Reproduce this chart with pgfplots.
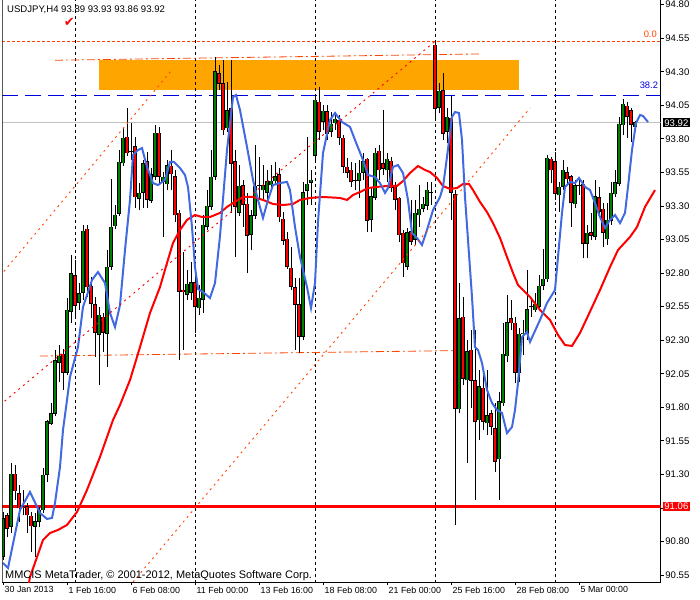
\documentclass[border=0pt]{standalone}
\usepackage{pgfplots}
\pgfplotsset{compat=1.18}
\usepackage{pgfplotstable}
\usepackage{fontspec}
\setmainfont{Liberation Sans}
\newfontfamily\djv{DejaVu Sans}
\definecolor{orangered}{RGB}{255,69,0}
\definecolor{mablue}{RGB}{65,105,225}
\definecolor{bull}{RGB}{0,128,0}
\definecolor{bear}{RGB}{255,0,0}
\definecolor{rectorange}{RGB}{255,165,0}
\definecolor{fibblue}{RGB}{0,0,220}
\definecolor{bidgray}{RGB}{192,192,192}

% USDJPY H4 candles, bar index i (30 Jan 2013 00:00 = 0)
\pgfplotstableread{
i o h l c
0 90.686 91.020 90.662 90.973
1 90.997 91.012 90.833 90.898
2 90.909 91.385 90.863 91.303
3 91.303 91.370 91.109 91.176
4 91.159 91.221 90.947 91.049
5 91.057 91.184 90.997 91.049
6 91.059 91.087 90.863 90.997
7 90.990 91.022 90.724 90.915
8 90.909 91.012 90.686 90.947
9 90.947 91.059 90.909 91.034
10 91.034 91.347 91.012 91.296
11 91.296 91.705 91.245 91.693
12 91.680 91.832 91.668 91.755
13 91.755 92.227 91.735 92.148
14 92.133 92.265 91.991 92.182
15 92.197 92.235 91.928 92.056
16 92.058 92.615 92.041 92.525
17 92.513 92.935 92.431 92.794
18 92.779 92.898 92.475 92.558
19 92.578 92.727 92.525 92.645
20 92.654 93.159 92.600 93.114
21 93.129 93.159 92.624 92.696
22 92.704 92.773 92.466 92.570
23 92.563 92.624 92.175 92.354
24 92.339 92.550 91.965 92.488
25 92.473 92.503 92.212 92.354
26 92.347 92.972 92.102 92.846
27 92.846 93.501 92.823 93.144
28 93.151 93.308 93.129 93.233
29 93.241 93.717 93.226 93.628
30 93.620 93.881 93.598 93.807
31 93.814 94.030 93.673 93.695
32 93.702 93.918 93.643 93.705
33 93.742 93.816 93.285 93.367
34 93.354 93.471 93.270 93.397
35 93.399 93.643 93.285 93.620
36 93.630 93.705 93.285 93.345
37 93.340 93.583 93.323 93.538
38 93.518 93.903 93.494 93.844
39 93.844 93.888 93.456 93.518
40 93.481 93.556 93.069 93.516
41 93.464 93.643 93.419 93.605
42 93.598 93.717 93.419 93.538
43 93.523 93.568 93.180 93.233
44 93.248 93.270 92.152 92.661
45 92.674 92.960 92.227 92.659
46 92.637 92.823 92.600 92.719
47 92.652 92.885 92.600 92.727
48 92.727 92.773 92.354 92.550
49 92.540 92.712 92.488 92.615
50 92.600 93.233 92.503 93.159
51 93.144 93.419 93.121 93.300
52 93.293 93.717 93.270 93.516
53 93.518 94.412 93.494 94.301
54 94.289 94.351 94.164 94.214
55 94.214 94.388 93.829 93.866
56 93.881 94.226 93.851 94.015
57 94.028 94.388 93.248 93.618
58 93.630 93.717 92.920 93.295
59 93.248 93.605 93.226 93.449
60 93.456 93.494 93.146 93.308
61 93.315 93.397 92.801 93.081
62 93.088 93.270 92.972 93.230
63 93.230 93.754 93.206 93.449
64 93.456 93.667 93.345 93.453
65 93.419 93.605 93.345 93.456
66 93.399 93.568 93.345 93.481
67 93.456 93.605 93.419 93.486
68 93.486 93.630 93.456 93.523
69 93.538 93.583 93.181 93.218
70 93.203 93.258 93.010 93.042
71 93.054 93.108 92.830 92.846
72 92.838 92.997 92.674 92.697
73 92.696 92.763 92.227 92.563
74 92.563 92.763 92.205 92.327
75 92.324 93.479 92.302 93.399
76 93.414 93.814 93.307 93.464
77 93.474 93.568 93.307 93.494
78 93.673 94.127 93.643 94.090
79 94.075 94.189 93.792 93.854
80 93.930 94.053 93.866 94.008
81 94.003 94.053 93.792 93.842
82 93.854 94.003 93.814 93.911
83 93.918 94.003 93.866 93.948
84 93.941 93.978 93.754 93.807
85 93.807 93.829 93.546 93.593
86 93.591 93.658 93.509 93.548
87 93.568 93.630 93.444 93.481
88 93.494 93.620 93.419 93.491
89 93.488 93.643 93.360 93.546
90 93.548 93.695 93.494 93.630
91 93.650 93.658 93.109 93.190
92 93.196 93.444 93.109 93.369
93 93.360 93.732 93.345 93.695
94 93.710 93.754 93.494 93.568
95 93.620 94.015 93.531 93.576
96 93.568 93.693 93.481 93.650
97 93.635 93.667 93.404 93.434
98 93.444 93.481 93.270 93.345
99 93.360 93.369 93.034 93.084
100 93.099 93.121 92.773 92.875
101 92.848 93.136 92.823 93.101
102 93.109 93.345 93.010 93.034
103 93.047 93.345 93.010 93.248
104 93.233 93.456 93.146 93.278
105 93.283 93.369 93.255 93.315
106 93.302 93.481 93.270 93.419
107 93.400 93.481 93.307 93.402
108 94.500 94.527 93.941 94.028
109 94.035 94.214 93.991 94.157
110 94.164 94.293 93.792 93.842
111 93.854 94.030 93.767 93.963
112 93.956 94.120 93.196 93.397
113 93.389 93.419 90.923 91.793
114 91.787 92.727 91.757 92.465
115 92.473 92.624 91.966 92.011
116 92.003 92.302 91.385 92.214
117 92.227 92.376 91.793 91.998
118 92.003 92.376 91.109 91.693
119 91.705 92.078 91.556 91.954
120 91.944 92.078 91.630 91.693
121 91.683 92.078 91.593 91.742
122 91.757 91.780 91.593 91.655
123 91.645 91.832 91.321 91.395
124 91.414 91.916 91.109 91.842
125 91.832 92.426 91.810 92.197
126 92.182 92.637 92.140 92.430
127 92.465 92.600 92.376 92.428
128 92.428 92.475 91.979 92.058
129 92.056 92.390 91.991 92.346
130 92.346 92.451 92.190 92.354
131 92.346 92.823 92.302 92.530
132 92.547 92.600 92.475 92.551
133 92.525 92.649 92.510 92.570
134 92.550 92.786 92.525 92.704
135 92.704 92.979 92.674 92.756
136 92.756 93.680 92.734 93.658
137 93.650 93.663 93.469 93.568
138 93.630 93.705 93.345 93.395
139 93.382 93.481 93.258 93.442
140 93.444 93.643 93.419 93.568
141 93.553 93.593 93.456 93.501
142 93.518 93.531 93.146 93.325
143 93.315 93.494 93.285 93.456
144 93.456 93.509 93.382 93.453
145 93.464 93.494 92.910 93.017
146 93.022 93.159 92.910 93.099
147 93.101 93.246 93.047 93.082
148 93.071 93.494 93.047 93.369
149 93.365 93.444 93.233 93.258
150 93.278 93.320 92.997 93.099
151 93.054 93.320 93.010 93.196
152 93.190 93.481 93.159 93.397
153 93.389 93.568 93.367 93.474
154 93.469 93.966 93.449 93.911
155 93.903 94.095 93.829 94.060
156 94.045 94.077 93.804 93.965
157 94.010 94.028 93.779 93.905
158 93.890 93.930 93.860 93.920
}\candles

\begin{document}
\begin{tikzpicture}
\begin{axis}[
    name=ax,
    scale only axis,
    width=658.4bp, height=582bp,
    xmin=-0.175, xmax=164.425,
    ymin=90.498, ymax=94.835,
    axis x line*=bottom, axis y line*=right,
    axis line style={black, line width=0.8bp, -},
    tick align=outside, major tick length=3bp,
    tick style={black, line width=0.8bp},
    xtick={0,16,32,48,64,80,96,112,128,144},
    xticklabels={30 Jan 2013, 1 Feb 16:00, 6 Feb 08:00, 11 Feb 00:00, 13 Feb 16:00,
                 18 Feb 08:00, 21 Feb 00:00, 25 Feb 16:00, 28 Feb 08:00, 5 Mar 00:00},
    xticklabel style={font=\fontsize{8.9}{9}\selectfont, anchor=north west, inner sep=0pt, xshift=1.5bp, yshift=-1.5bp},
    ytick={90.55,90.80,91.05,91.30,91.55,91.80,92.05,92.30,92.55,92.80,93.05,93.30,93.55,93.80,94.05,94.30,94.55,94.80},
    yticklabels={90.55,90.80,91.05,91.30,91.55,91.80,92.05,92.30,92.55,92.80,93.05,93.30,93.55,93.80,94.05,94.30,94.55,94.80},
    yticklabel style={font=\fontsize{9.6}{10}\selectfont, anchor=west, inner sep=0pt, xshift=1.5bp},
]
% rectangle object
\addplot[fill=rectorange, draw=none] coordinates {(24,94.167) (129,94.167) (129,94.388) (24,94.388)} -- cycle;
% weekly separators
\foreach \s in {18,48,78,108,138} {
  \edef\tmp{\noexpand\addplot[black, line width=0.8bp, dash pattern=on 3bp off 3bp] coordinates {(\s,90.4) (\s,94.9)};}
  \tmp
}
% bid line, level lines
\addplot[bidgray, line width=0.9bp] coordinates {(-1,93.92) (166,93.92)};
\addplot[draw=red, line width=2.4bp] coordinates {(-1,91.06) (166,91.06)};
\addplot[orangered, line width=0.8bp, dash pattern=on 3bp off 2bp] coordinates {(-0.175,94.527) (164.4,94.527)};
\addplot[fibblue, line width=0.9bp, dash pattern=on 16bp off 7bp] coordinates {(-0.175,94.125) (164.4,94.125)};
% channel
\addplot[orangered, line width=0.8bp, dash pattern=on 8bp off 3bp on 2bp off 3bp] coordinates {(13,94.386) (119.25,94.433)};
\addplot[orangered, line width=0.8bp, dash pattern=on 8bp off 3bp on 2bp off 3bp] coordinates {(9.25,92.182) (112.5,92.222)};
% candles: wicks
\addplot[draw=none, error bars/.cd, y dir=plus, y explicit, error mark=none,
  error bar style={draw=black, line width=0.9bp}]
  table[x=i, y=l, y error expr=\thisrow{h}-\thisrow{l}] {\candles};
% candles: body outline
\addplot[draw=none, error bars/.cd, y dir=plus, y explicit, error mark=none,
  error bar style={draw=black, line width=3.4bp}]
  table[x=i, y expr={min(\thisrow{o},\thisrow{c})-0.003}, y error expr={abs(\thisrow{o}-\thisrow{c})+0.006}] {\candles};
% candles: bull fill
\addplot[draw=none, error bars/.cd, y dir=plus, y explicit, error mark=none,
  error bar style={draw=bull, line width=1.6bp}]
  table[x=i, y expr={min(\thisrow{o},\thisrow{c})+0.0035}, y error expr={ifthenelse(\thisrow{c}>\thisrow{o}, max(\thisrow{c}-\thisrow{o}-0.007,0), 0)}] {\candles};
% candles: bear fill
\addplot[draw=none, error bars/.cd, y dir=plus, y explicit, error mark=none,
  error bar style={draw=bear, line width=1.6bp}]
  table[x=i, y expr={min(\thisrow{o},\thisrow{c})+0.0035}, y error expr={ifthenelse(\thisrow{o}>\thisrow{c}, max(\thisrow{o}-\thisrow{c}-0.007,0), 0)}] {\candles};
% slow MA
\addplot[red, line width=2bp] coordinates {
(5.75,90.364) (6.75,90.535) (10,90.811) (11.75,90.863) (13.75,90.886) (16,90.923) (18.5,91.020)
(21,91.184) (24.25,91.430) (27.5,91.705) (29.25,91.817) (31.75,92.003) (34.25,92.249) (36.75,92.503)
(39.25,92.696) (41,92.875) (42.5,93.024) (44.25,93.121) (46,93.196) (48,93.233) (49.75,93.218)
(51.75,93.218) (54.25,93.248) (56,93.293) (57.5,93.322) (60,93.367) (62.5,93.367) (65,93.345)
(67.5,93.315) (70,93.307) (72.5,93.315) (74.25,93.345) (76.75,93.360) (80,93.367) (84.25,93.360)
(86,93.345) (87.5,93.382) (89.25,93.404) (91.25,93.434) (93.5,93.442) (96,93.449) (98.5,93.449)
(100,93.486) (101.75,93.546) (103.75,93.598) (105.5,93.568) (106.75,93.553) (108.5,93.509)
(110,93.449) (111.75,93.427) (113.5,93.434) (115,93.464) (116.5,93.464) (117.5,93.419)
(119.25,93.330) (121,93.255) (122.5,93.173) (124.25,93.062) (126,92.920) (127.5,92.801)
(128.75,92.711) (130,92.674) (131.75,92.622) (134.25,92.525) (136.75,92.451) (138.75,92.339)
(140.5,92.264) (142.25,92.257) (144.25,92.354) (146,92.465) (149.25,92.674) (151.75,92.845)
(153.75,92.972) (156.75,93.069) (158.5,93.143) (160.5,93.293) (163,93.419)
};
% fast MA
\addplot[mablue, line width=2bp] coordinates {
(0,90.640) (1.25,90.602) (4.25,91.035) (6.75,91.169) (9.25,91.012) (11,90.968) (12.25,90.975)
(13,91.087) (14.25,91.355) (15,91.631) (16,91.854) (16.75,92.026) (18.75,92.249) (20,92.547)
(22.25,92.749) (23.75,92.808) (25.5,92.726) (26.75,92.503) (28,92.398) (29.25,92.562) (30.5,92.972)
(31.75,93.345) (32.5,93.680) (33.75,93.717) (34.75,93.732) (36,93.591) (37.5,93.471) (38.75,93.456)
(40.5,93.494) (41.75,93.628) (42.75,93.628) (44.25,93.583) (45.5,93.531) (46.25,93.442) (47.25,93.144)
(48,92.845) (48.75,92.682) (50,92.659) (51.75,92.614) (53,92.726) (54.25,93.076) (56,93.717)
(57.5,94.112) (58.25,94.127) (59.25,94.015) (61,93.740) (62.5,93.494) (63.75,93.345) (65,93.211)
(66.25,93.345) (67.5,93.456) (69.25,93.471) (71,93.479) (71.75,93.419) (73,93.144) (74.25,92.920)
(76,92.696) (77,92.540) (78,92.726) (78.75,93.181) (80,93.695) (81.75,93.941) (83,93.993)
(84.75,93.926) (86.75,93.889) (88,93.792) (90,93.643) (91.25,93.531) (93,93.516) (94.25,93.471)
(95.5,93.397) (96.25,93.434) (97.5,93.591) (98.75,93.605) (100,93.546) (101.25,93.345) (102.25,93.099)
(103.5,93.062) (104.75,93.009) (106,93.121) (107.5,93.270) (109.25,93.367) (110,93.442) (111,93.665)
(112.25,93.963) (113,94.000) (114,93.993) (114.75,93.792) (115.5,93.367) (116.25,93.047)
(117.25,92.622) (118,92.249) (118.75,92.227) (119.75,92.130) (121,91.929) (122.25,91.832)
(123.5,91.780) (124.75,91.758) (126,91.608) (127.25,91.653) (128,91.780) (128.75,91.981)
(129.75,92.324) (131,92.361) (131.75,92.287) (134.25,92.451) (136,92.577) (138,92.674)
(138.75,92.920) (139.75,93.248) (140.5,93.442) (141.75,93.479) (143,93.471) (144,93.509)
(145.5,93.442) (146.75,93.419) (148,93.322) (149.25,93.218) (150.5,93.136) (151.75,93.196)
(153,93.233) (154.25,93.173) (155.5,93.248) (156.25,93.442) (157.25,93.717) (158.25,93.918)
(159.25,93.978) (160,93.971) (161.25,93.926)
};
% trend lines
\addplot[orangered, line width=0.9bp, dash pattern=on 2bp off 4bp] coordinates {(-0.75,92.778) (42,94.306)};
\addplot[red, line width=0.9bp, dash pattern=on 2bp off 4bp] coordinates {(-0.75,91.817) (108,94.527)};
\addplot[orangered, line width=0.9bp, dash pattern=on 2bp off 4bp] coordinates {(32.5,90.498) (131.75,94.030)};
% texts
\node[anchor=west, inner sep=0pt, font=\fontsize{9.6}{10}\selectfont] at (axis cs:1,94.76) {USDJPY,H4 93.89 93.93 93.86 93.92};
\node[text=red, inner sep=0pt, font=\djv\fontsize{13}{13}\selectfont] at (axis cs:16.6,94.671) {✔};
\node[anchor=west, inner sep=0pt, font=\fontsize{11}{11}\selectfont] at (axis cs:0.5,90.545) {MMCIS MetaTrader, © 2001-2012, MetaQuotes Software Corp.};
\node[anchor=base east, inner sep=0pt, text=orangered, font=\fontsize{9.4}{9}\selectfont] at (axis cs:163.5,94.552) {0.0};
\node[anchor=base east, inner sep=0pt, text=fibblue, font=\fontsize{9.4}{9}\selectfont] at (axis cs:163.8,94.177) {38.2};
\draw[black, line width=0.8bp] (rel axis cs:0,0) -- (rel axis cs:0,1);
\end{axis}
\node[anchor=west, fill=black, text=white, inner xsep=1.5bp, inner ysep=0pt, minimum height=9bp, font=\fontsize{9.6}{10}\selectfont]
  at ([xshift=2bp]ax.south east |- 0,{(93.92-90.498)/4.337*582bp}) {93.92};
\node[anchor=west, fill=red, text=white, inner xsep=1.5bp, inner ysep=0pt, minimum height=9bp, font=\fontsize{9.6}{10}\selectfont]
  at ([xshift=2bp]ax.south east |- 0,{(91.06-90.498)/4.337*582bp}) {91.06};
\pgfresetboundingbox
\path[use as bounding box] ([shift={(-2.3bp,-18bp)}]ax.south west) rectangle ++(700bp,600bp);
\end{tikzpicture}
\end{document}
